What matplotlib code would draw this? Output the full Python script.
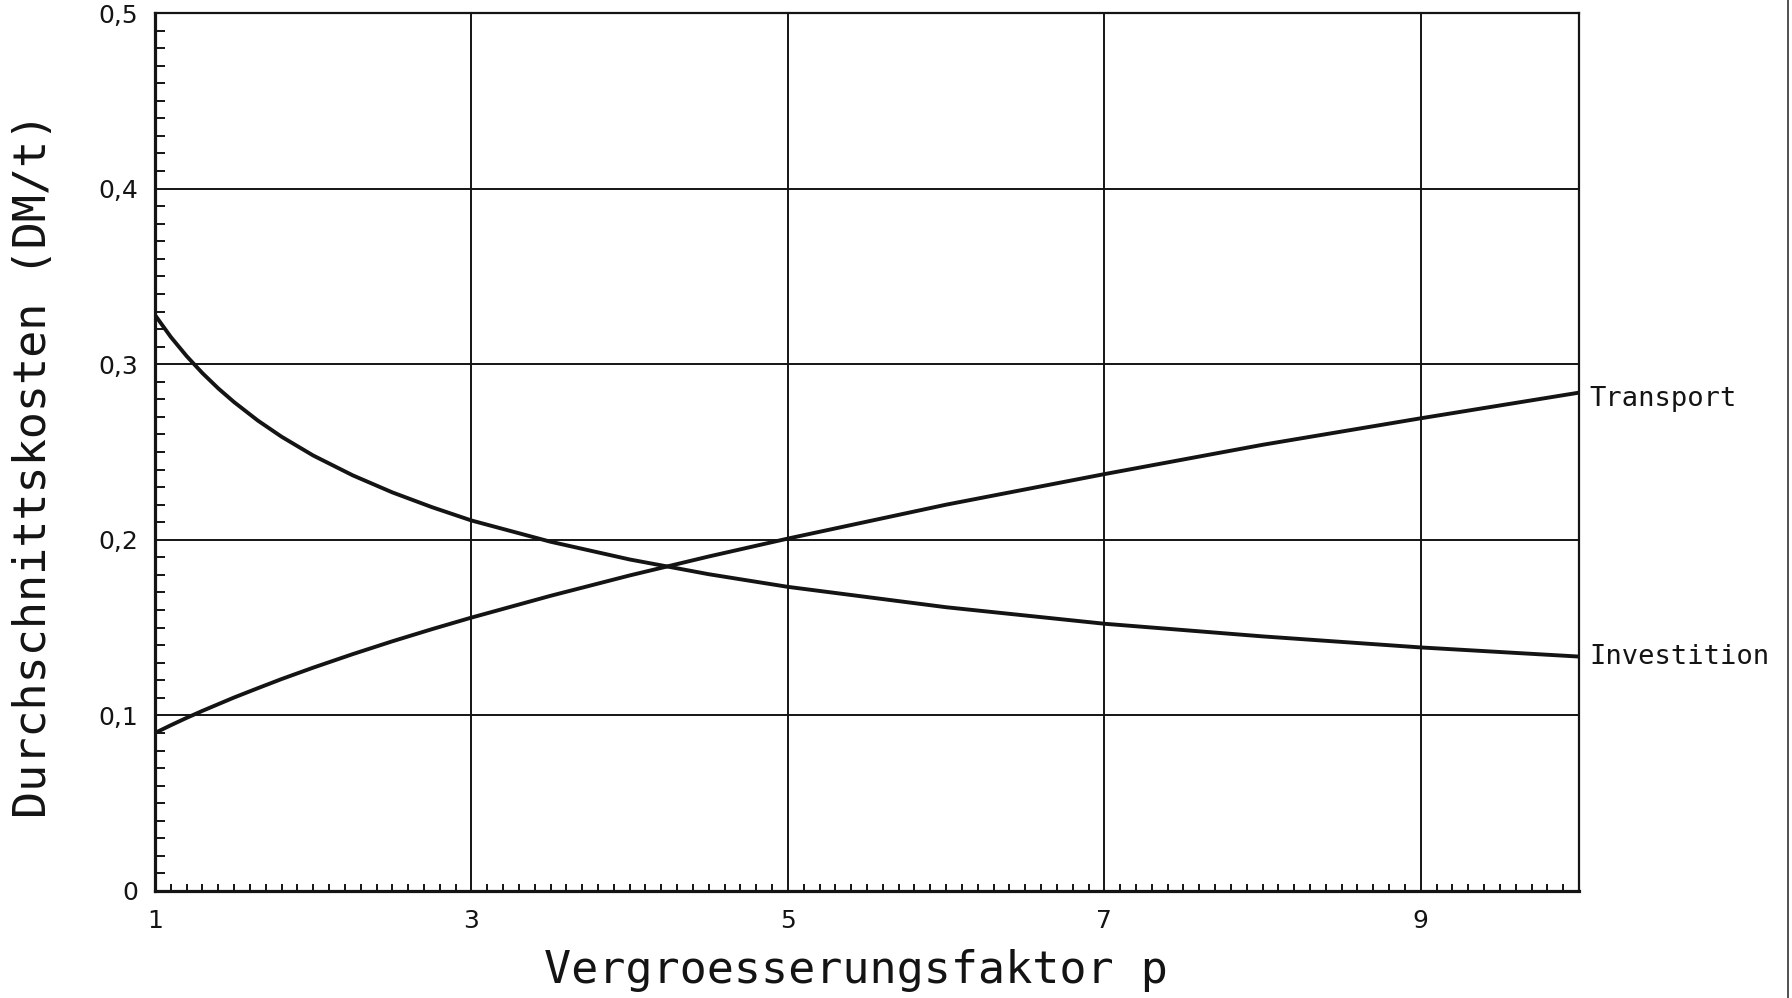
import matplotlib
matplotlib.use("Agg")
import matplotlib.pyplot as plt
from matplotlib.ticker import MultipleLocator, FixedLocator
from matplotlib.lines import Line2D

# Data
p_values = [1.0, 1.1, 1.2, 1.3, 1.4, 1.5, 1.65, 1.8, 2.0, 2.25, 2.5, 2.75, 3.0, 3.5, 4.0,
            4.5, 5.0, 6.0, 7.0, 8.0, 9.0, 10.0]
investition = [0.328, 0.3155, 0.3046, 0.2949, 0.2862, 0.2784, 0.2679, 0.2587, 0.2480, 0.2367,
               0.2270, 0.2186, 0.2110, 0.1989, 0.1888, 0.1804, 0.1732, 0.1616, 0.1522, 0.1450,
               0.1387, 0.1335]
transport = [0.090, 0.0944, 0.0986, 0.1026, 0.1064, 0.1102, 0.1155, 0.1207, 0.1272, 0.1349,
             0.1422, 0.1491, 0.1557, 0.1681, 0.1797, 0.1905, 0.2007, 0.2200, 0.2374, 0.2541,
             0.2692, 0.2838]

x_ticks = [1, 3, 5, 7, 9]
x_tick_labels = ["1", "3", "5", "7", "9"]
y_ticks = [0.0, 0.1, 0.2, 0.3, 0.4, 0.5]
y_tick_labels = ["0", "0,1", "0,2", "0,3", "0,4", "0,5"]

series_names = ["Transport", "Investition"]
x_label = "Vergroesserungsfaktor p"
y_label = "Durchschnittskosten (DM/t)"

ink = "#141414"
W, H, DPI = 1792, 998, 100
fig = plt.figure(figsize=(W / DPI, H / DPI), dpi=DPI)
fig.patch.set_facecolor("white")

ax = fig.add_axes([155 / W, 1 - 891 / H, (1579 - 155) / W, (891 - 13) / H])
ax.set_xlim(1, 10)
ax.set_ylim(0, 0.5)

# grid
for xv in x_ticks[1:]:
    ax.axvline(xv, color=ink, lw=1.4, zorder=1)
for yv in y_ticks[1:-1]:
    ax.axhline(yv, color=ink, lw=1.4, zorder=1)

# curves
ax.plot(p_values, investition, color=ink, lw=2.8, zorder=3,
        solid_capstyle="butt", solid_joinstyle="round")
ax.plot(p_values, transport, color=ink, lw=2.8, zorder=3,
        solid_capstyle="butt", solid_joinstyle="round")

# spines
for side, lw in (("left", 2.3), ("bottom", 2.3), ("top", 1.6), ("right", 1.6)):
    ax.spines[side].set_color(ink)
    ax.spines[side].set_linewidth(lw)

# ticks
ax.xaxis.set_major_locator(FixedLocator(x_ticks))
ax.set_xticklabels(x_tick_labels)
ax.xaxis.set_minor_locator(MultipleLocator(0.1))
ax.yaxis.set_major_locator(FixedLocator(y_ticks))
ax.set_yticklabels(y_tick_labels)
ax.yaxis.set_minor_locator(MultipleLocator(0.01))

ax.tick_params(axis="x", which="both", direction="in", top=False, bottom=True, color=ink)
ax.tick_params(axis="y", which="both", direction="in", right=False, left=True, color=ink)
ax.tick_params(axis="x", which="major", length=0, pad=13, labelsize=18, labelcolor=ink)
ax.tick_params(axis="y", which="major", length=0, pad=12, labelsize=18, labelcolor=ink)
ax.tick_params(axis="x", which="minor", length=5, width=1.4)
ax.tick_params(axis="y", which="minor", length=7, width=1.4)

# axis labels
mono = "DejaVu Sans Mono"
fig.text(856 / W, 1 - 971 / H, x_label, family=mono, fontsize=32.5, color=ink,
         ha="center", va="center")
fig.text(34 / W, 1 - 465 / H, y_label, family=mono, fontsize=32.5, color=ink,
         ha="center", va="center", rotation=90)

# series labels at the right end of each curve
for name, vals, dy in ((series_names[0], transport, -6), (series_names[1], investition, 0)):
    ax.annotate(name, xy=(p_values[-1], vals[-1]), xytext=(10, dy),
                textcoords="offset pixels", family=mono, fontsize=19.5, color=ink,
                ha="left", va="center", annotation_clip=False)

# scan border line at far right
fig.add_artist(Line2D([1788 / W, 1788 / W], [0.0, 1.0], transform=fig.transFigure,
                      color="#333333", lw=1.2))

fig.savefig("out.png", dpi=DPI, facecolor="white")
